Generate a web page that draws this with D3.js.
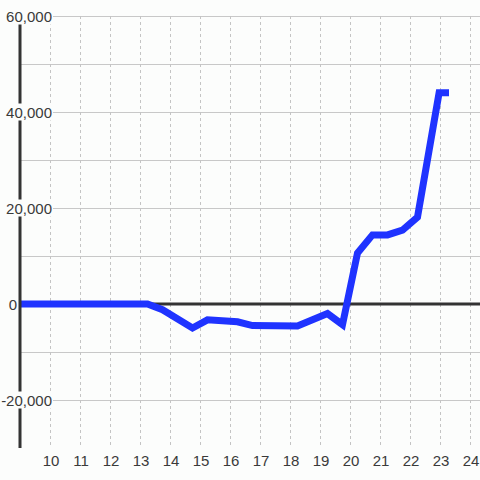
<!DOCTYPE html>
<html>
<head>
<meta charset="utf-8">
<title>line chart</title>
<script src="https://cdn.jsdelivr.net/npm/d3@7"></script>
<style>
  body { margin: 0; background: #fcfdfc; }
  svg { display: block; }
</style>
</head>
<body>
<svg width="480" height="480"></svg>
<script>
// data
const days = [9, 13.25, 13.75, 14.75, 15.25, 16.25, 16.75, 18.25, 19.25, 19.75, 20.25, 20.75, 21.25, 21.75, 22.25, 22.97, 23.3];
const values = [0, 0, -1200, -5000, -3300, -3700, -4500, -4600, -2000, -4300, 10600, 14400, 14400, 15400, 18100, 44000, 44000];

const xTicks = [10, 11, 12, 13, 14, 15, 16, 17, 18, 19, 20, 21, 22, 23, 24];
const yTicks = [-20000, 0, 20000, 40000, 60000];
const yTickLabels = ["-20,000", "0", "20,000", "40,000", "60,000"];
const yGrid = [-20000, -10000, 10000, 20000, 30000, 40000, 50000, 60000];

const svg = d3.select("svg");
const W = 480;

const x = d3.scaleLinear().domain([9, 24]).range([20, 470]);
const y = d3.scaleLinear().domain([-30000, 60000]).range([448, 16]);

svg.append("rect").attr("width", W).attr("height", W).attr("fill", "#fcfdfc");

// horizontal grid
svg.append("g").selectAll("line").data(yGrid).join("line")
  .attr("x1", x(9)).attr("x2", W)
  .attr("y1", d => y(d) + 0.5).attr("y2", d => y(d) + 0.5)
  .attr("stroke", "#c8c8c8").attr("stroke-width", 1)
  .attr("shape-rendering", "crispEdges");

// vertical dashed grid
svg.append("g").selectAll("line").data(xTicks).join("line")
  .attr("x1", d => x(d) + 0.5).attr("x2", d => x(d) + 0.5)
  .attr("y1", y(60000)).attr("y2", y(-30000))
  .attr("stroke", "#c4c4c4").attr("stroke-width", 1)
  .attr("stroke-dasharray", "3,3")
  .attr("shape-rendering", "crispEdges");

// zero line
svg.append("line")
  .attr("x1", x(9)).attr("x2", W)
  .attr("y1", y(0)).attr("y2", y(0))
  .attr("stroke", "#333").attr("stroke-width", 3);

// the series
const line = d3.line().x((d, i) => x(days[i])).y(d => y(d));
svg.append("path")
  .attr("d", line(values))
  .attr("fill", "none")
  .attr("stroke", "#1f33ff")
  .attr("stroke-width", 7)
  .attr("stroke-linejoin", "miter");

// left axis
svg.append("line")
  .attr("x1", x(9)).attr("x2", x(9))
  .attr("y1", y(60000)).attr("y2", y(-30000))
  .attr("stroke", "#333").attr("stroke-width", 3);

// y labels with a background box
const yl = svg.append("g").selectAll("g").data(yTicks).join("g");
yl.append("text")
  .attr("x", d => d === 0 ? 17 : 52)
  .attr("y", d => y(d) + 5.5)
  .attr("text-anchor", "end")
  .attr("font-family", "'Liberation Sans', Arial, sans-serif")
  .attr("font-size", 15)
  .attr("fill", "#3a3a3a")
  .text((d, i) => yTickLabels[i]);
yl.each(function() {
  const g = d3.select(this);
  const b = g.select("text").node().getBBox();
  g.insert("rect", "text")
    .attr("x", b.x).attr("y", b.y)
    .attr("width", b.width + 1).attr("height", b.height)
    .attr("fill", "#fcfdfc");
});

// x labels
svg.append("g").selectAll("text").data(xTicks).join("text")
  .attr("x", d => x(d) + 1)
  .attr("y", 466)
  .attr("text-anchor", "middle")
  .attr("font-family", "'Liberation Sans', Arial, sans-serif")
  .attr("font-size", 15)
  .attr("fill", "#3a3a3a")
  .text(d => d);
</script>
</body>
</html>
